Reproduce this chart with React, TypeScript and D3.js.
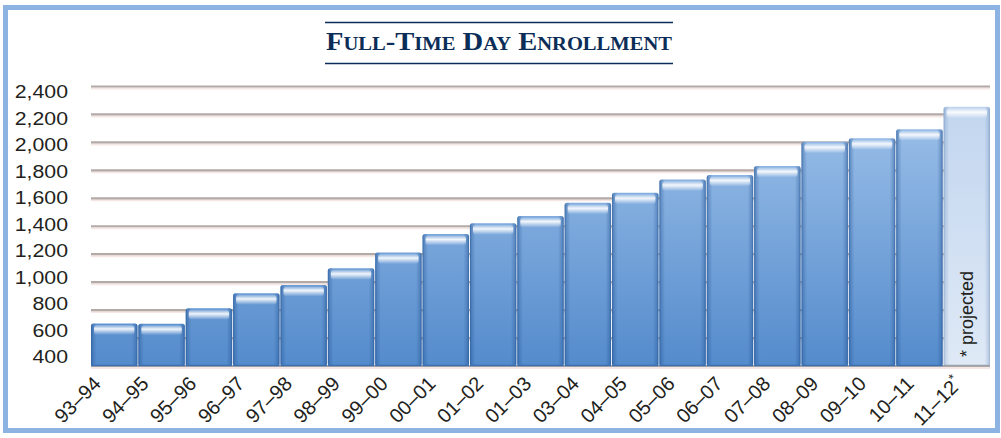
import React, { useRef, useEffect } from 'react'
import * as d3 from 'd3'

const years = [
	'93–94',
	'94–95',
	'95–96',
	'96–97',
	'97–98',
	'98–99',
	'99–00',
	'00–01',
	'01–02',
	'01–03',
	'03–04',
	'04–05',
	'05–06',
	'06–07',
	'07–08',
	'08–09',
	'09–10',
	'10–11',
	'11–12',
]

const enrollment = [
	705, 703, 813, 920, 980, 1099, 1212, 1345, 1421, 1473, 1568, 1640, 1734,
	1767, 1831, 2005, 2029, 2094, 2255,
]

const yTicks = [400, 600, 800, 1000, 1200, 1400, 1600, 1800, 2000, 2200, 2400]

const projectedYear = '11–12'

// title set in small caps: [text, isCapital]
const titleParts = [
	['F', true],
	['ULL', false],
	['-T', true],
	['IME', false],
	[' D', true],
	['AY', false],
	[' E', true],
	['NROLLMENT', false],
]

const App = () => {
	const svgRef = useRef(null)

	useEffect(() => {
		const svg = d3.select(svgRef.current)
		svg.selectAll('*').remove()

		const base = 366

		const data = years.map((year, i) => ({ year, value: enrollment[i] }))

		const x = d3.scaleBand().domain(years).range([91, 990]).paddingInner(0.02)
		// the rotated labels drift a little against the bars
		const xLabel = d3.scalePoint().domain(years).range([102, 963])
		const y = d3.scaleLinear().domain([400, 2400]).range([base, 86.5])
		// tick labels sit on a slightly tighter spacing than the rules
		const yLabel = d3.scaleLinear().domain([400, 2400]).range([357, 92])

		const defs = svg.append('defs')

		const barFill = defs
			.append('linearGradient')
			.attr('id', 'barFill')
			.attr('gradientUnits', 'userSpaceOnUse')
			.attr('x1', 0)
			.attr('y1', 100)
			.attr('x2', 0)
			.attr('y2', base)
		barFill.append('stop').attr('offset', '0%').attr('stop-color', '#9fc2ea')
		barFill.append('stop').attr('offset', '100%').attr('stop-color', '#548bcc')

		const projFill = defs
			.append('linearGradient')
			.attr('id', 'projFill')
			.attr('x1', 0)
			.attr('y1', 0)
			.attr('x2', 0)
			.attr('y2', 1)
		projFill.append('stop').attr('offset', '0%').attr('stop-color', '#c2d6ef')
		projFill.append('stop').attr('offset', '100%').attr('stop-color', '#dfe9f6')

		const edge = defs
			.append('linearGradient')
			.attr('id', 'edgeShade')
			.attr('x1', 0)
			.attr('y1', 0)
			.attr('x2', 1)
			.attr('y2', 0)
		;[
			[0, 0.7],
			[0.04, 0.3],
			[0.12, 0],
			[0.88, 0],
			[0.96, 0.3],
			[1, 0.7],
		].forEach(([o, a]) =>
			edge
				.append('stop')
				.attr('offset', o)
				.attr('stop-color', '#1f4f8f')
				.attr('stop-opacity', a)
		)

		const cap = defs
			.append('linearGradient')
			.attr('id', 'capGlow')
			.attr('x1', 0)
			.attr('y1', 0)
			.attr('x2', 0)
			.attr('y2', 1)
		cap.append('stop').attr('offset', '0%').attr('stop-color', '#ffffff').attr('stop-opacity', 0.15)
		cap.append('stop').attr('offset', '40%').attr('stop-color', '#ffffff').attr('stop-opacity', 0.9)
		cap.append('stop').attr('offset', '100%').attr('stop-color', '#ffffff').attr('stop-opacity', 0)

		// frame
		svg.append('rect')
			.attr('x', 5.5)
			.attr('y', 7.5)
			.attr('width', 992)
			.attr('height', 423)
			.attr('fill', '#ffffff')
			.attr('stroke', '#8db3e2')
			.attr('stroke-width', 5)

		// title
		const title = svg.append('g')
		title.append('line')
			.attr('x1', 325)
			.attr('x2', 673)
			.attr('y1', 22.5)
			.attr('y2', 22.5)
			.attr('stroke', '#0b2d57')
			.attr('stroke-width', 1.4)
		title.append('line')
			.attr('x1', 325)
			.attr('x2', 673)
			.attr('y1', 63.5)
			.attr('y2', 63.5)
			.attr('stroke', '#0b2d57')
			.attr('stroke-width', 1.4)
		title.append('text')
			.attr('x', 326)
			.attr('y', 50)
			.attr('textLength', 346)
			.attr('lengthAdjust', 'spacingAndGlyphs')
			.style('font-family', '"Liberation Serif", "DejaVu Serif", serif')
			.style('font-weight', 'bold')
			.style('fill', '#0b2d57')
			.style('white-space', 'pre')
			.selectAll('tspan')
			.data(titleParts)
			.join('tspan')
			.style('font-size', (d) => (d[1] ? '25px' : '18px'))
			.text((d) => d[0])

		// grid
		const grid = svg.append('g')
		grid.selectAll('line.soft')
			.data(yTicks)
			.join('line')
			.attr('class', 'soft')
			.attr('x1', 91)
			.attr('x2', 990)
			.attr('y1', (d) => y(d) + 2)
			.attr('y2', (d) => y(d) + 2)
			.attr('stroke', '#f4e7e5')
			.attr('stroke-width', 2)
		grid.selectAll('line.rule')
			.data(yTicks)
			.join('line')
			.attr('class', 'rule')
			.attr('x1', 91)
			.attr('x2', 990)
			.attr('y1', (d) => y(d))
			.attr('y2', (d) => y(d))
			.attr('stroke', '#b3aaa7')
			.attr('stroke-width', 2.2)

		// y labels
		svg.append('g')
			.selectAll('text')
			.data(yTicks)
			.join('text')
			.attr('transform', (d) => `translate(68,${yLabel(d)}) scale(1.15,1)`)
			.attr('text-anchor', 'end')
			.attr('dominant-baseline', 'central')
			.style('font-family', '"Liberation Sans", Arial, sans-serif')
			.style('font-size', '18.5px')
			.style('fill', '#231f20')
			.text((d) => d3.format(',')(d))

		// bars
		const bars = svg.append('g')
			.selectAll('g')
			.data(data)
			.join('g')

		bars.append('rect')
			.attr('x', (d) => x(d.year))
			.attr('y', (d) => y(d.value))
			.attr('width', x.bandwidth())
			.attr('height', (d) => base - y(d.value))
			.attr('rx', 2.5)
			.attr('fill', (d) => (d.year === projectedYear ? 'url(#projFill)' : 'url(#barFill)'))

		bars.append('rect')
			.attr('x', (d) => x(d.year))
			.attr('y', (d) => y(d.value))
			.attr('width', x.bandwidth())
			.attr('height', (d) => base - y(d.value))
			.attr('rx', 2.5)
			.attr('fill', 'url(#edgeShade)')
			.attr('opacity', (d) => (d.year === projectedYear ? 0.5 : 1))

		bars.append('rect')
			.attr('x', (d) => x(d.year) + 3)
			.attr('y', (d) => y(d.value) + 1.5)
			.attr('width', x.bandwidth() - 6)
			.attr('height', 10)
			.attr('rx', 3)
			.attr('fill', 'url(#capGlow)')

		bars.append('line')
			.attr('x1', (d) => x(d.year))
			.attr('x2', (d) => x(d.year) + x.bandwidth())
			.attr('y1', base - 0.5)
			.attr('y2', base - 0.5)
			.attr('stroke', (d) => (d.year === projectedYear ? '#9aa3ad' : '#3b6fae'))
			.attr('stroke-width', 1.5)

		// projected note
		const last = data[data.length - 1]
		svg.append('text')
			.attr('transform', `translate(${x(last.year) + x.bandwidth() / 2 + 6},357) rotate(-90)`)
			.style('font-family', '"Liberation Sans", Arial, sans-serif')
			.style('font-size', '18px')
			.style('fill', '#231f20')
			.text('* projected')

		// x labels
		const xl = svg.append('g')
			.selectAll('text')
			.data(years)
			.join('text')
			.attr('transform', (d) => `translate(${xLabel(d)},385) rotate(-45)`)
			.attr('text-anchor', 'end')
			.style('font-family', '"Liberation Sans", Arial, sans-serif')
			.style('font-size', '20px')
			.style('fill', '#231f20')
		xl.append('tspan').text((d) => d)
		xl.filter((d) => d === projectedYear)
			.append('tspan')
			.attr('dy', -8)
			.style('font-size', '13px')
			.text('*')
	}, [])

	return (
		<svg
			ref={svgRef}
			width={1001}
			height={438}
			style={{ position: 'absolute', left: 0, top: 0 }}
		></svg>
	)
}

export default App
